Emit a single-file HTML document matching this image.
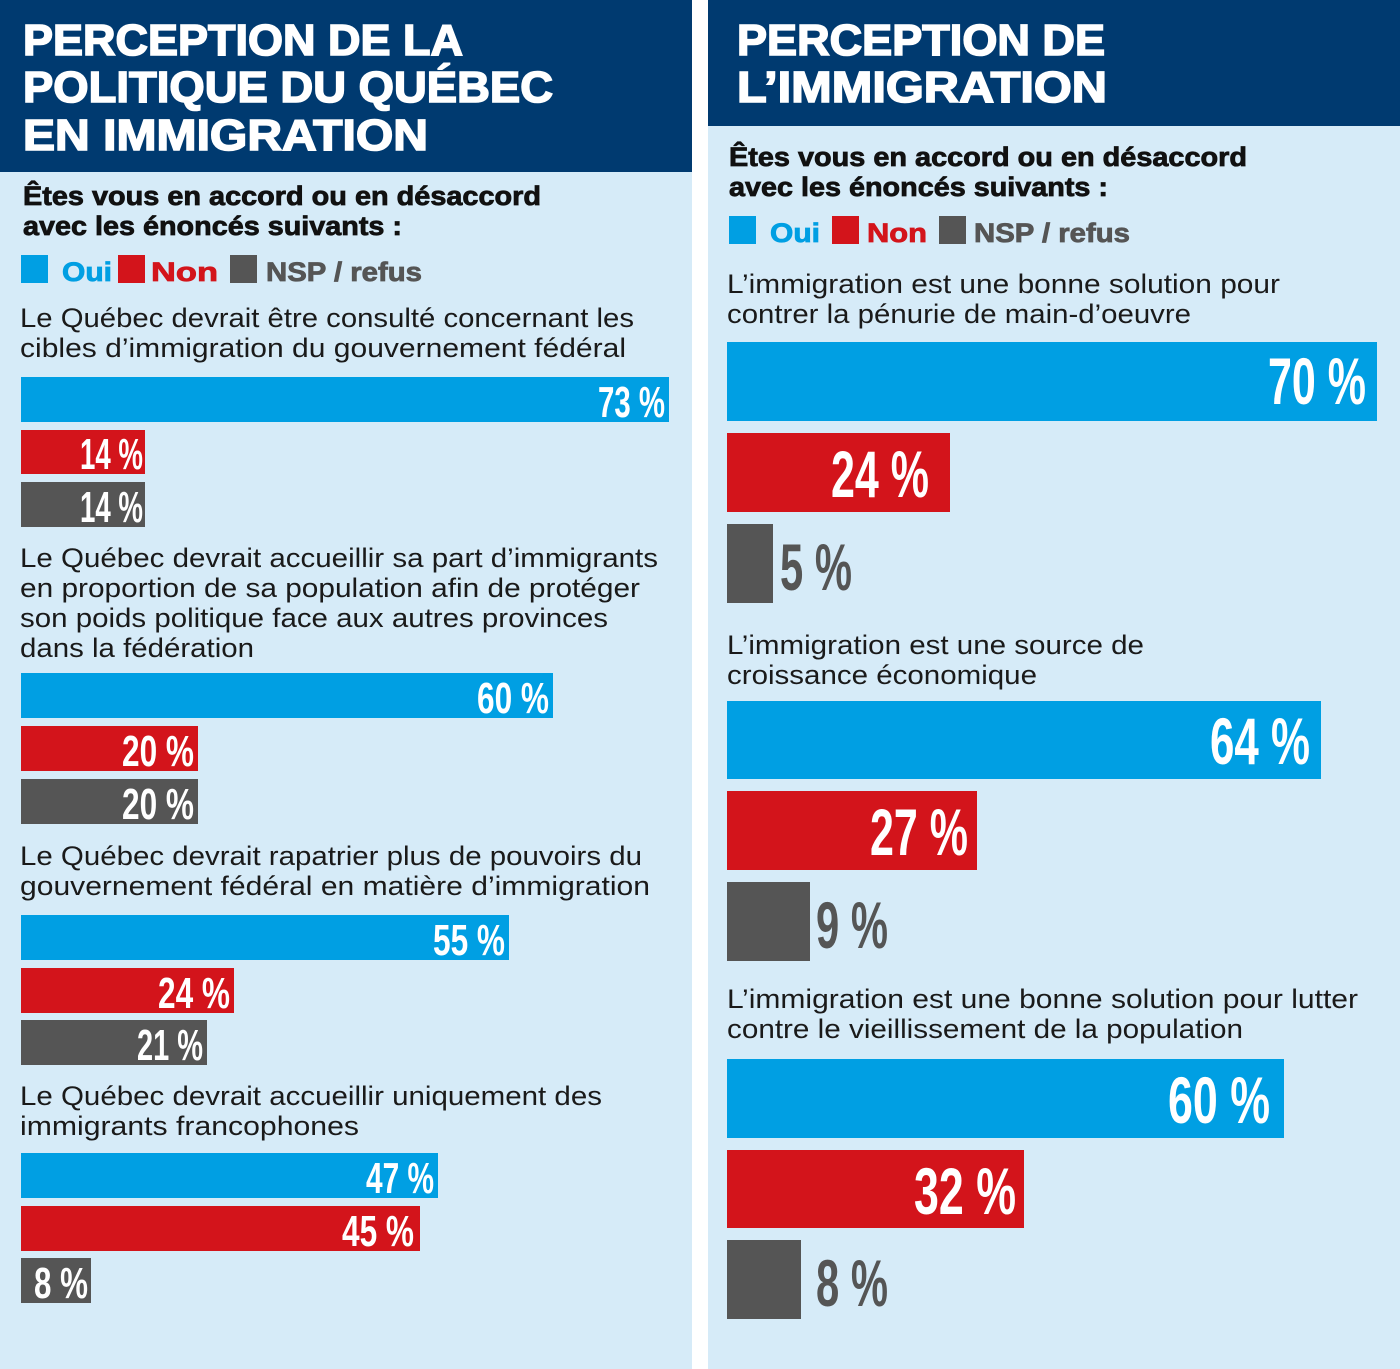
<!DOCTYPE html>
<html><head><meta charset="utf-8"><style>
html,body{margin:0;padding:0;background:#fff}
svg{display:block}
.h{font-family:"Liberation Sans",sans-serif;font-weight:bold;fill:#fff;font-size:44px;stroke:#fff;stroke-width:1.6}
.s{font-family:"Liberation Sans",sans-serif;font-weight:bold;fill:#111;font-size:27px;stroke:#111;stroke-width:0.8}
.q{font-family:"Liberation Sans",sans-serif;fill:#1a1a1a;font-size:27px}
.l{font-family:"Liberation Sans Narrow","Liberation Sans",sans-serif;font-weight:bold;fill:#fff;font-size:44px}
.r{font-family:"Liberation Sans Narrow","Liberation Sans",sans-serif;font-weight:bold;fill:#fff;font-size:66px}
</style></head><body>
<svg width="1400" height="1369" viewBox="0 0 1400 1369" xmlns="http://www.w3.org/2000/svg">
<rect x="0" y="0" width="692" height="1369" fill="#d6ebf8"/>
<rect x="708" y="0" width="692" height="1369" fill="#d6ebf8"/>
<rect x="0" y="0" width="692" height="172" fill="#003a70"/>
<rect x="708" y="0" width="692" height="126" fill="#003a70"/>
<text class="h" x="23" y="55" textLength="440" lengthAdjust="spacingAndGlyphs">PERCEPTION DE LA</text>
<text class="h" x="23" y="102" textLength="530" lengthAdjust="spacingAndGlyphs">POLITIQUE DU QUÉBEC</text>
<text class="h" x="23" y="150" textLength="405" lengthAdjust="spacingAndGlyphs">EN IMMIGRATION</text>
<text class="h" x="737" y="55" textLength="368" lengthAdjust="spacingAndGlyphs">PERCEPTION DE</text>
<text class="h" x="737" y="102" textLength="370" lengthAdjust="spacingAndGlyphs">L’IMMIGRATION</text>

<text class="s" x="23" y="205" textLength="518" lengthAdjust="spacingAndGlyphs">Êtes vous en accord ou en désaccord</text>
<text class="s" x="23" y="235" textLength="379" lengthAdjust="spacingAndGlyphs">avec les énoncés suivants :</text>
<text class="s" x="729" y="166" textLength="518" lengthAdjust="spacingAndGlyphs">Êtes vous en accord ou en désaccord</text>
<text class="s" x="729" y="196" textLength="379" lengthAdjust="spacingAndGlyphs">avec les énoncés suivants :</text>

<rect x="21" y="255" width="27" height="28" fill="#009fe3"/>
<text class="s" x="62" y="281" style="fill:#009fe3;stroke:#009fe3" textLength="50" lengthAdjust="spacingAndGlyphs">Oui</text>
<rect x="118" y="255" width="27" height="28" fill="#d3141b"/>
<text class="s" x="151" y="281" style="fill:#d3141b;stroke:#d3141b" textLength="67" lengthAdjust="spacingAndGlyphs">Non</text>
<rect x="230" y="255" width="27" height="28" fill="#555"/>
<text class="s" x="266" y="281" style="fill:#555;stroke:#555" textLength="156" lengthAdjust="spacingAndGlyphs">NSP / refus</text>

<rect x="729" y="216" width="27" height="28" fill="#009fe3"/>
<text class="s" x="770" y="242" style="fill:#009fe3;stroke:#009fe3" textLength="50" lengthAdjust="spacingAndGlyphs">Oui</text>
<rect x="832" y="216" width="27" height="28" fill="#d3141b"/>
<text class="s" x="867" y="242" style="fill:#d3141b;stroke:#d3141b" textLength="60" lengthAdjust="spacingAndGlyphs">Non</text>
<rect x="939" y="216" width="27" height="28" fill="#555"/>
<text class="s" x="974" y="242" style="fill:#555;stroke:#555" textLength="156" lengthAdjust="spacingAndGlyphs">NSP / refus</text>

<text class="q" x="20" y="327" textLength="614" lengthAdjust="spacingAndGlyphs">Le Québec devrait être consulté concernant les</text>
<text class="q" x="20" y="357" textLength="606" lengthAdjust="spacingAndGlyphs">cibles d’immigration du gouvernement fédéral</text>
<rect x="21" y="377" width="648" height="45" fill="#009fe3"/>
<text class="l" x="665" y="417" text-anchor="end" textLength="67" lengthAdjust="spacingAndGlyphs">73 %</text>
<rect x="21" y="430" width="124" height="44" fill="#d3141b"/>
<text class="l" x="143" y="469" text-anchor="end" textLength="63" lengthAdjust="spacingAndGlyphs">14 %</text>
<rect x="21" y="482" width="124" height="45" fill="#555"/>
<text class="l" x="143" y="522" text-anchor="end" textLength="63" lengthAdjust="spacingAndGlyphs">14 %</text>

<text class="q" x="20" y="567" textLength="638" lengthAdjust="spacingAndGlyphs">Le Québec devrait accueillir sa part d’immigrants</text>
<text class="q" x="20" y="597" textLength="620" lengthAdjust="spacingAndGlyphs">en proportion de sa population afin de protéger</text>
<text class="q" x="20" y="627" textLength="588" lengthAdjust="spacingAndGlyphs">son poids politique face aux autres provinces</text>
<text class="q" x="20" y="657" textLength="234" lengthAdjust="spacingAndGlyphs">dans la fédération</text>
<rect x="21" y="673" width="532" height="45" fill="#009fe3"/>
<text class="l" x="549" y="713" text-anchor="end" textLength="72" lengthAdjust="spacingAndGlyphs">60 %</text>
<rect x="21" y="726" width="177" height="45" fill="#d3141b"/>
<text class="l" x="194" y="766" text-anchor="end" textLength="72" lengthAdjust="spacingAndGlyphs">20 %</text>
<rect x="21" y="779" width="177" height="45" fill="#555"/>
<text class="l" x="194" y="819" text-anchor="end" textLength="72" lengthAdjust="spacingAndGlyphs">20 %</text>

<text class="q" x="20" y="865" textLength="622" lengthAdjust="spacingAndGlyphs">Le Québec devrait rapatrier plus de pouvoirs du</text>
<text class="q" x="20" y="895" textLength="630" lengthAdjust="spacingAndGlyphs">gouvernement fédéral en matière d’immigration</text>
<rect x="21" y="915" width="488" height="45" fill="#009fe3"/>
<text class="l" x="505" y="955" text-anchor="end" textLength="72" lengthAdjust="spacingAndGlyphs">55 %</text>
<rect x="21" y="968" width="213" height="45" fill="#d3141b"/>
<text class="l" x="230" y="1008" text-anchor="end" textLength="72" lengthAdjust="spacingAndGlyphs">24 %</text>
<rect x="21" y="1020" width="186" height="45" fill="#555"/>
<text class="l" x="203" y="1060" text-anchor="end" textLength="66" lengthAdjust="spacingAndGlyphs">21 %</text>

<text class="q" x="20" y="1105" textLength="582" lengthAdjust="spacingAndGlyphs">Le Québec devrait accueillir uniquement des</text>
<text class="q" x="20" y="1135" textLength="339" lengthAdjust="spacingAndGlyphs">immigrants francophones</text>
<rect x="21" y="1153" width="417" height="45" fill="#009fe3"/>
<text class="l" x="434" y="1193" text-anchor="end" textLength="68" lengthAdjust="spacingAndGlyphs">47 %</text>
<rect x="21" y="1206" width="399" height="45" fill="#d3141b"/>
<text class="l" x="414" y="1246" text-anchor="end" textLength="72" lengthAdjust="spacingAndGlyphs">45 %</text>
<rect x="21" y="1258" width="70" height="45" fill="#555"/>
<text class="l" x="88" y="1298" text-anchor="end" textLength="54" lengthAdjust="spacingAndGlyphs">8 %</text>

<text class="q" x="727" y="293" textLength="553" lengthAdjust="spacingAndGlyphs">L’immigration est une bonne solution pour</text>
<text class="q" x="727" y="323" textLength="464" lengthAdjust="spacingAndGlyphs">contrer la pénurie de main-d’oeuvre</text>
<rect x="727" y="342" width="650" height="79" fill="#009fe3"/>
<text class="r" x="1366" y="404" text-anchor="end" textLength="98" lengthAdjust="spacingAndGlyphs">70 %</text>
<rect x="727" y="433" width="223" height="79" fill="#d3141b"/>
<text class="r" x="929" y="497" text-anchor="end" textLength="98" lengthAdjust="spacingAndGlyphs">24 %</text>
<rect x="727" y="524" width="46" height="79" fill="#555"/>
<text class="r" x="780" y="590" style="fill:#555" textLength="72" lengthAdjust="spacingAndGlyphs">5 %</text>

<text class="q" x="727" y="654" textLength="417" lengthAdjust="spacingAndGlyphs">L’immigration est une source de</text>
<text class="q" x="727" y="684" textLength="310" lengthAdjust="spacingAndGlyphs">croissance économique</text>
<rect x="727" y="701" width="594" height="78" fill="#009fe3"/>
<text class="r" x="1310" y="764" text-anchor="end" textLength="100" lengthAdjust="spacingAndGlyphs">64 %</text>
<rect x="727" y="791" width="250" height="79" fill="#d3141b"/>
<text class="r" x="968" y="855" text-anchor="end" textLength="98" lengthAdjust="spacingAndGlyphs">27 %</text>
<rect x="727" y="882" width="83" height="79" fill="#555"/>
<text class="r" x="816" y="948" style="fill:#555" textLength="72" lengthAdjust="spacingAndGlyphs">9 %</text>

<text class="q" x="727" y="1008" textLength="631" lengthAdjust="spacingAndGlyphs">L’immigration est une bonne solution pour lutter</text>
<text class="q" x="727" y="1038" textLength="516" lengthAdjust="spacingAndGlyphs">contre le vieillissement de la population</text>
<rect x="727" y="1059" width="557" height="79" fill="#009fe3"/>
<text class="r" x="1270" y="1123" text-anchor="end" textLength="102" lengthAdjust="spacingAndGlyphs">60 %</text>
<rect x="727" y="1150" width="297" height="78" fill="#d3141b"/>
<text class="r" x="1016" y="1214" text-anchor="end" textLength="102" lengthAdjust="spacingAndGlyphs">32 %</text>
<rect x="727" y="1240" width="74" height="79" fill="#555"/>
<text class="r" x="816" y="1306" style="fill:#555" textLength="72" lengthAdjust="spacingAndGlyphs">8 %</text>
</svg>
</body></html>
